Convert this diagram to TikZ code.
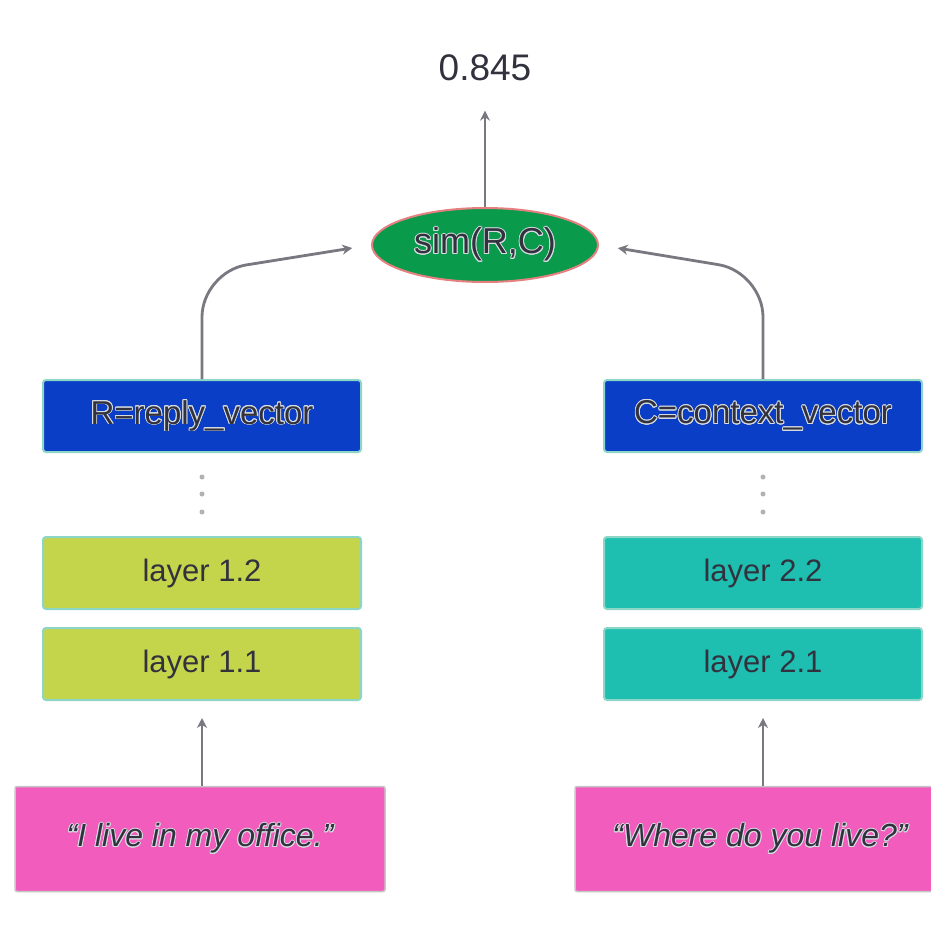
\documentclass[tikz,border=0pt]{standalone}
\usepackage{fontspec}
\setmainfont{Liberation Sans}
\usepackage{contour}
\contourlength{0.9pt}
\contournumber{16}
\usetikzlibrary{shapes.geometric,arrows.meta}
\definecolor{vecblue}{RGB}{10,62,198}
\definecolor{lyellow}{RGB}{197,213,75}
\definecolor{lteal}{RGB}{30,190,176}
\definecolor{inpink}{RGB}{242,92,189}
\definecolor{simgreen}{RGB}{10,154,76}
\definecolor{simedge}{RGB}{230,128,128}
\definecolor{boxedge}{RGB}{140,214,200}
\definecolor{txtdark}{RGB}{50,50,62}
\definecolor{halo}{RGB}{215,220,225}
\definecolor{arrowgray}{RGB}{120,120,128}
\newcommand{\halotext}[1]{\contour{halo}{#1}}
\tikzset{
  box/.style={draw=boxedge, line width=2pt, rounded corners=3pt, inner sep=0pt,
              minimum width=318pt, minimum height=72pt, text=txtdark},
  vecbox/.style={box, fill=vecblue, font=\fontsize{33}{36}\selectfont},
  layerA/.style={box, fill=lyellow, font=\fontsize{31}{34}\selectfont},
  layerB/.style={box, fill=lteal, font=\fontsize{31}{34}\selectfont},
  inbox/.style={draw=gray!45, line width=1.5pt, fill=inpink, rounded corners=2pt,
                minimum width=370pt, minimum height=105pt, text=txtdark,
                font=\itshape\fontsize{32}{35}\selectfont},
  conn/.style={draw=arrowgray, line width=2.8pt, -{Stealth[length=10pt,width=10pt]}},
  vdot/.style={circle, fill=gray!60, inner sep=0pt, minimum size=5pt}
}
\begin{document}
\begin{tikzpicture}[x=1pt,y=-1pt]
\useasboundingbox[fill=white] (0,0) rectangle (931,928);
% top value
\node[text=txtdark, font=\fontsize{37}{40}\selectfont] (val) at (485,68) {0.845};
% similarity ellipse
\node[ellipse, draw=simedge, line width=2pt, fill=simgreen, minimum width=226pt,
      minimum height=74pt, inner sep=0pt, text=txtdark,
      font=\fontsize{36}{40}\selectfont] (sim) at (485,245) {\halotext{sim(R,C)}};
% left column
\node[vecbox] (R) at (202,416) {\halotext{R=reply\_vector}};
\node[vdot] (ld1) at (202,477) {};
\node[vdot] (ld2) at (202,494) {};
\node[vdot] (ld3) at (202,512) {};
\node[layerA] (l12) at (202,573) {layer 1.2};
\node[layerA] (l11) at (202,664) {layer 1.1};
\node[inbox] (inR) at (200,839) {\halotext{“I live in my office.”}};
% right column
\node[vecbox] (C) at (763,416) {\halotext{C=context\_vector}};
\node[vdot] (rd1) at (763,477) {};
\node[vdot] (rd2) at (763,494) {};
\node[vdot] (rd3) at (763,512) {};
\node[layerB] (l22) at (763,573) {layer 2.2};
\node[layerB] (l21) at (763,664) {layer 2.1};
\node[inbox] (inC) at (760,839) {\halotext{“Where do you live?”}};
% connectors
\draw[conn, shorten >=26pt] (sim.north) -- (val.south);
\draw[conn, shorten >=17pt] (inR.north -| l11.south) -- (l11.south);
\draw[conn, shorten >=17pt] (inC.north -| l21.south) -- (l21.south);
\draw[conn, rounded corners=45pt, shorten >=19pt] (R.north) -- (R.north |- 0,272) -- (sim.west);
\draw[conn, rounded corners=45pt, shorten >=19pt] (C.north) -- (C.north |- 0,272) -- (sim.east);
\end{tikzpicture}
\end{document}
